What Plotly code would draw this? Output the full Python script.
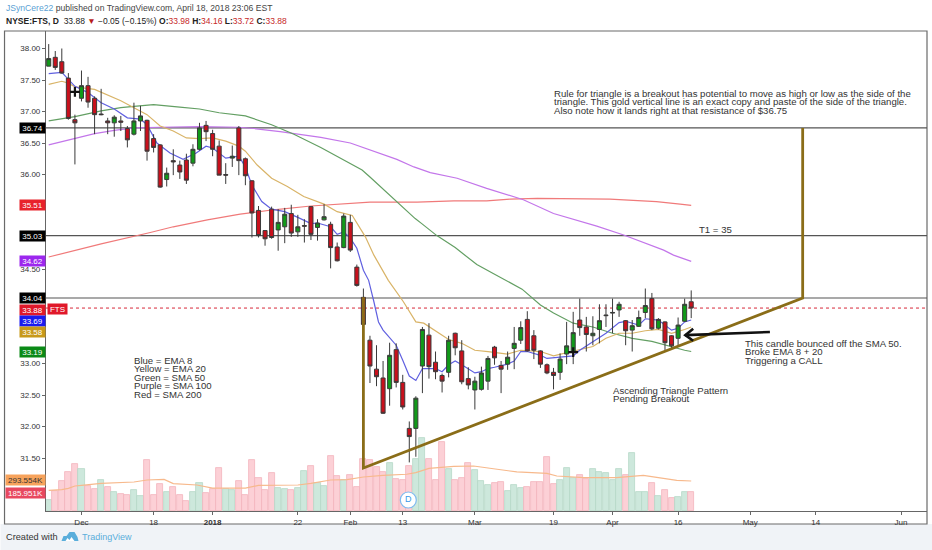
import plotly.graph_objects as go

OPEN = [37.72,37.86,37.79,37.53,36.87,37.21,37.41,37.21,36.96,36.85,36.82,36.85,36.73,36.64,36.85,36.86,36.57,36.47,35.92,36.22,
        36.15,36.23,36.18,36.40,36.78,36.65,36.45,36.00,36.26,36.74,36.25,35.90,35.43,35.11,35.45,35.12,35.17,35.38,35.09,35.19,
        35.49,35.16,35.28,35.21,34.85,34.84,35.24,34.53,34.05,33.37,32.91,32.77,32.60,33.22,32.70,31.97,31.97,32.96,33.45,33.02,
        32.81,32.86,33.48,33.20,32.76,32.58,32.59,32.72,33.26,32.97,32.99,33.24,33.37,33.70,33.44,33.20,32.98,32.86,32.86,33.15,
        33.19,33.69,33.58,33.44,33.54,33.77,33.80,33.85,33.68,33.53,33.59,33.81,34.03,33.56,33.66,33.44,33.40,33.67,33.98]
HIGH = [38.07,37.96,38.00,37.61,36.95,37.65,37.55,37.24,37.36,36.90,36.94,36.93,36.77,37.14,37.09,36.87,36.64,36.48,36.11,36.40,
        36.22,36.33,36.48,36.82,36.85,36.71,36.54,36.18,36.46,36.77,36.27,35.91,35.50,35.11,35.49,35.45,35.47,35.52,35.36,35.29,
        35.50,35.29,35.53,35.25,34.92,35.38,35.36,34.57,34.19,33.44,33.29,33.04,33.33,33.32,32.82,32.08,32.48,33.58,33.64,33.19,
        32.84,33.44,33.49,33.37,32.94,32.79,32.95,33.12,33.28,33.04,33.19,33.58,33.67,33.83,33.53,33.21,33.00,32.93,33.16,33.66,
        33.82,34.03,33.74,33.75,33.94,33.94,34.03,33.98,33.69,33.69,33.84,34.19,34.12,33.72,33.67,33.45,33.73,34.03,34.16]
LOW = [37.72,37.66,37.60,36.87,36.16,37.16,37.06,36.64,36.94,36.64,36.60,36.69,36.43,36.62,36.69,36.22,36.35,35.79,35.81,35.99,
       35.93,35.85,36.13,36.38,36.53,36.29,35.99,35.85,36.12,35.99,35.83,35.00,35.00,34.87,34.98,34.79,34.91,35.01,35.01,34.92,
       34.96,34.95,35.27,34.51,34.62,34.83,34.77,34.22,33.61,32.69,32.64,32.20,32.33,32.62,32.27,31.43,31.52,32.53,32.76,32.75,
       32.54,32.78,33.13,32.67,32.59,32.27,32.57,32.58,32.98,32.53,32.90,32.91,33.31,33.19,33.07,32.93,32.83,32.59,32.74,32.99,
       32.99,33.44,33.19,33.29,33.32,33.58,33.48,33.74,33.29,33.19,33.58,33.72,33.53,33.54,33.21,33.24,33.29,33.66,33.72]
CLOSE = [37.84,37.70,37.61,36.89,36.82,37.41,37.15,36.95,36.95,36.82,36.91,36.83,36.55,36.85,36.93,36.37,36.43,35.80,36.02,36.20,
         36.04,35.91,36.40,36.74,36.68,36.40,35.99,35.99,36.29,36.22,35.98,35.39,35.03,34.98,35.00,35.24,35.37,35.07,35.17,35.18,
         35.05,35.23,35.33,34.84,34.63,35.34,34.80,34.24,33.62,32.96,32.79,32.21,33.13,32.70,32.31,31.84,32.45,33.54,32.95,32.87,
         32.72,33.37,33.25,32.71,32.66,32.72,32.85,33.08,33.09,32.91,33.10,33.32,33.57,33.20,33.21,32.99,32.85,32.81,33.07,33.28,
         33.49,33.57,33.46,33.48,33.68,33.76,33.81,33.94,33.52,33.60,33.73,33.92,33.55,33.70,33.33,33.28,33.61,33.94,33.88]
VOLUME_K = [111,196,294,386,464,415,245,213,304,235,183,163,160,203,147,500,157,262,186,235,
            160,95,186,271,177,219,422,219,203,291,160,500,327,209,373,226,216,203,226,396,
            438,275,245,540,340,304,353,235,507,497,431,386,474,311,301,441,513,715,513,304,
            674,409,301,327,471,405,294,255,275,281,196,252,229,235,285,285,530,262,304,419,
            327,353,317,409,383,373,301,409,353,566,186,183,278,147,203,128,137,186,186]
VOL_UP = [0,5,8,10,13,14,18,22,23,27,28,35,36,38,39,41,42,45,52,56,57,61,65,66,67,70,71,72,
          78,79,80,83,84,85,86,87,89,90,91,93,96,97]

VOLMA_I = [0,2,3,4,5,8,13,15,17.6,19,22.6,25,28,30,32,35,38,40,43,45.5,48,51,54.6,56,58,61.8,64.8,68.4,71.4,76,77.5,81.6,86.6,90.7,95.8,98]
VOLMA_K = [203,209,222,245,252,271,284,304,310,268,255,225,225,225,251,255,255,271,304,307,333,350,360,376,418,438,441,409,383,369,343,327,327,350,301,294]

EMA8_I = [0,2,4,6,8,10,12,14,15,16.5,18.5,20.5,22.5,24,25,27,29,30,31,32.5,34,36,38,40,41,43,44,45,46,47,48,48.8,49.6,50.3,51,53,54,55,56,57,59,60,61,62,63,65,66,67,68,70,71,72,73,75,76,78,80,81,83,85,87,88,90,91,93,94,95,96,97,98]
EMA8_P = [37.60,37.62,37.40,37.30,37.14,37.04,36.90,36.88,36.79,36.50,36.34,36.24,36.34,36.45,36.42,36.26,36.29,36.12,35.83,35.57,35.45,35.41,35.32,35.22,35.23,35.17,35.05,35.09,34.99,34.83,34.48,34.32,33.98,33.66,33.53,33.29,33.05,32.80,32.73,32.92,32.92,32.87,32.98,33.04,32.98,32.85,32.87,32.92,32.94,32.99,33.04,33.19,33.19,33.13,33.08,33.10,33.12,33.21,33.35,33.48,33.65,33.67,33.61,33.71,33.69,33.61,33.53,33.56,33.66,33.69]
EMA20_I = [0,2,3,4,7,9,11,13,15,17,19,21,23,25,27,29,30,31.8,34,36.4,38.9,42,44,46.3,48.3,49.6,50.6,51.8,54.1,56,57.2,59.2,61,63,65,67,70,72,75,77,80,83,85,87,89,91,93,95,97,98]
EMA20_P = [37.43,37.48,37.45,37.39,37.35,37.26,37.17,37.06,36.95,36.77,36.69,36.58,36.57,36.58,36.53,36.45,36.37,36.15,35.94,35.81,35.65,35.53,35.41,35.35,35.01,34.72,34.54,34.32,33.98,33.66,33.64,33.50,33.38,33.32,33.21,33.19,33.15,33.21,33.19,33.12,33.19,33.27,33.40,33.48,33.48,33.52,33.54,33.48,33.54,33.58]
SMA50_I = [0,4,8,11,13,16,20,23,26,28,30,34,37.4,41.5,47.8,49,53.1,55.9,56.9,59.2,62,65.3,67.8,72.2,75,77,80,83,86,89,92,95,97,98]
SMA50_P = [36.85,36.92,37.01,37.06,37.08,37.11,37.07,37.04,36.98,36.95,36.93,36.79,36.64,36.43,36.07,35.96,35.56,35.30,35.22,35.03,34.84,34.57,34.43,34.18,33.93,33.80,33.64,33.58,33.48,33.40,33.35,33.26,33.21,33.19]
SMA100_I = [0,4,7,10,13,17,23,29,31.3,35.3,41.5,46,49,53.1,55.7,58.2,62.3,66.8,72.4,77,83.6,87.7,93.8,95.3,98]
SMA100_P = [36.47,36.57,36.65,36.70,36.74,36.75,36.76,36.75,36.73,36.68,36.59,36.50,36.39,36.24,36.12,36.03,35.94,35.78,35.60,35.38,35.18,35.04,34.80,34.72,34.62]
SMA200_I = [0,8,15.5,19,24.2,29.2,34.3,40,49,56.2,61.8,66.8,70.4,74.5,85.6,92.7,96.3,98]
SMA200_P = [34.69,34.90,35.08,35.17,35.28,35.37,35.44,35.50,35.56,35.56,35.58,35.58,35.61,35.62,35.61,35.57,35.53,35.51]

TICK_I = [5,16,25,38,46,54,65,77,86,96,107,117,130]
TICK_L = ["Dec","18","<b>2018</b>","22","Feb","13","Mar","19","Apr","16","May","14","Jun"]
PRICE_TICKS = [38.0,37.5,37.0,36.5,36.0,34.5,33.0,32.5,32.0,31.5]

H_LEVELS = [36.74,35.03,34.04]
# value, label, colour, pixel nudge used by the tag stack
TAGS = [(36.74,"36.74","#000000",0),(35.51,"35.51","#e8222b",0),(35.03,"35.03","#000000",0),(34.62,"34.62","#9c27ee",0),
        (34.04,"34.04","#000000",0),(33.88,"33.88","#e0182a",-1.5),(33.69,"33.69","#1a1af0",-1),(33.58,"33.58","#c8991a",-5),(33.19,"33.19","#0a8a16",-0.5)]
VOL_TAGS = [(293.554,"293.554K","#f7a35c",1),(185.951,"185.951K","#e8485f",-1)]

TRI_I = [48,48,115,115]
TRI_P = [34.05,31.34,34.04,36.74]
CROSS_I = [4,80]
CROSS_P = [37.31,33.18]
ARROW_I = [110,97.1]
ARROW_P = [33.50,33.45]
ARROW_HEAD_I = [98.3,97.1,98.3]
ARROW_HEAD_P = [33.55,33.45,33.36]

W,H = 932,550
L,T,R,B = 45.5,31,927,511
px = lambda x:(x-L)/(R-L)
py = lambda y:(B-y)/(B-T)
XR = [(L-48.2)/6.56,(R-48.2)/6.56]
YR = [38-(B-48.5)/63,38+(48.5-T)/63]
VR = [0,(B-T)*9.8]
idx = list(range(len(OPEN)))
FONT = "Liberation Sans"
TXT = "#333333"

fig = go.Figure()
fig.add_bar(x=idx,y=VOLUME_K,yaxis="y",width=0.92,
            marker=dict(color=["#cde8dc" if i in VOL_UP else "#fcd0d6" for i in idx],
                        line=dict(color=["#b5d8c7" if i in VOL_UP else "#f2b4bd" for i in idx],width=0.8)))
fig.add_scatter(x=VOLMA_I,y=VOLMA_K,yaxis="y",mode="lines",line=dict(color="#f7b98c",width=1.2))
for xs,ys,c in [(SMA200_I,SMA200_P,"#f07a7a"),(SMA100_I,SMA100_P,"#c376ea"),(SMA50_I,SMA50_P,"#639f63"),
                (EMA20_I,EMA20_P,"#d9b468"),(EMA8_I,EMA8_P,"#6060e0")]:
    fig.add_scatter(x=xs,y=ys,yaxis="y2",mode="lines",line=dict(color=c,width=1.2))
fig.add_candlestick(x=idx,open=OPEN,high=HIGH,low=LOW,close=CLOSE,yaxis="y3",
                    increasing=dict(fillcolor="#119a19",line=dict(color="#3a3a3a",width=1)),
                    decreasing=dict(fillcolor="#c9101c",line=dict(color="#3a3a3a",width=1)),whiskerwidth=0)
fig.add_scatter(x=TRI_I,y=TRI_P,yaxis="y4",mode="lines",line=dict(color="#8a6d18",width=2.8))
fig.add_scatter(x=CROSS_I,y=CROSS_P,yaxis="y4",mode="markers",
                marker=dict(symbol="cross-thin",size=7,line=dict(color="#111111",width=2.2)))
fig.add_scatter(x=ARROW_I,y=ARROW_P,yaxis="y4",mode="lines",line=dict(color="#111111",width=2.6))
fig.add_scatter(x=ARROW_HEAD_I,y=ARROW_HEAD_P,yaxis="y4",mode="lines",line=dict(color="#111111",width=2.6))
fig.add_scatter(x=[54.85],y=[108],yaxis="y",mode="markers+text",text=["D"],textposition="middle center",
                textfont=dict(color="#3b99e8",size=9,family=FONT),
                marker=dict(size=16,color="#ffffff",line=dict(color="#7db9f0",width=1.2)))

shapes = [
    dict(type="rect",xref="paper",yref="paper",x0=px(0),x1=px(W),y0=py(524),y1=py(H),fillcolor="#f0f3f7",line_width=0,layer="below"),
    dict(type="rect",xref="paper",yref="paper",x0=px(4),x1=px(927),y0=py(524),y1=py(31),line=dict(color="#6a6a6a",width=1.2),layer="below"),
]
for v in H_LEVELS:
    shapes.append(dict(type="line",xref="paper",yref="y2",x0=0,x1=1,y0=v,y1=v,line=dict(color="#555555",width=1.2),layer="below"))
shapes.append(dict(type="line",xref="paper",yref="y2",x0=0,x1=1,y0=33.88,y1=33.88,line=dict(color="#d8283a",width=1,dash="dot"),layer="below"))
shapes.append(dict(type="path",xref="paper",yref="paper",fillcolor="#5aaedb",line_width=0,
    path=f"M {px(61)} {py(541)} L {px(63)} {py(536)} L {px(66)} {py(536)} L {px(69)} {py(532)} L {px(74)} {py(532)} L {px(77)} {py(537)} L {px(78)} {py(541)} Z"))
shapes.append(dict(type="path",xref="paper",yref="paper",fillcolor="#ffffff",line_width=0,
    path=f"M {px(65)} {py(541)} L {px(67)} {py(538)} L {px(69)} {py(540)} L {px(71)} {py(537)} L {px(74)} {py(541)} Z"))

ann = []
def text(x,y,s,size=9.6,color=TXT):
    ann.append(dict(xref="paper",yref="paper",x=px(x-2),y=py(y),text=s,showarrow=False,xanchor="left",yanchor="middle",
                    align="left",font=dict(family=FONT,size=size,color=color)))
R_ = "#c62828"
text(5,8,'<span style="color:#5a9fd4">JSynCere22</span> published on TradingView.com, April 18, 2018 23:06 EST',size=8.6,color="#444444")
text(5,21,f'<b>NYSE:FTS, D</b>  33.88 <span style="color:#b71c1c">▼</span> −0.05 (−0.15%) <b>O:</b><span style="color:{R_}">33.98</span> <b>H:</b><span style="color:{R_}">34.16</span> <b>L:</b><span style="color:{R_}">33.72</span> <b>C:</b><span style="color:{R_}">33.88</span>',size=8.5,color="#222222")
for i,s in enumerate(["Rule for triangle is a breakout has potential to move as high or low as the side of the",
                      "triangle. This gold vertical line is an exact copy and paste of the side of the triangle.",
                      "Also note how it lands right at that resistance of $36.75"]):
    text(554,93.3+i*8.5,s)
text(699,229,"T1 = 35")
for i,s in enumerate(["Blue = EMA 8","Yellow = EMA 20","Green = SMA 50","Purple = SMA 100","Red = SMA 200"]):
    text(134,360.5+i*8.4,s)
for i,s in enumerate(["Ascending Triangle Pattern","Pending Breakout"]):
    text(613,390+i*8.7,s)
for i,s in enumerate(["This candle bounced off the SMA 50.","Broke EMA 8 + 20","Triggering a CALL"]):
    text(745,343+i*8.6,s)
text(5,537,"Created with",size=9.2,color="#333333")
text(82,537,"TradingView",size=9,color="#5aaedb")
for v,s,c,n in TAGS:
    ann.append(dict(xref="paper",yref="y2",x=px(45),y=v,yshift=n,text=s,showarrow=False,xanchor="right",yanchor="middle",width=24,height=9,
                    bgcolor=c,borderpad=0.5,font=dict(family=FONT,size=8,color="#ffffff"),align="center"))
for v,s,c,n in VOL_TAGS:
    ann.append(dict(xref="paper",yref="y",x=px(45),y=v,yshift=n,text=s,showarrow=False,xanchor="right",yanchor="middle",width=38,height=9,
                    bgcolor=c,borderpad=0.5,font=dict(family=FONT,size=8,color="#333333" if c=="#f7a35c" else "#ffffff"),align="center"))
ann.append(dict(xref="paper",yref="y2",x=px(47),y=33.88,yshift=-1,text="FTS",showarrow=False,xanchor="left",yanchor="middle",width=18,height=9,
                bgcolor="#e0182a",borderpad=0.5,font=dict(family=FONT,size=8,color="#ffffff")))

hidden = dict(overlaying="y",range=YR,visible=False,fixedrange=True)
fig.update_layout(
    width=W,height=H,autosize=False,showlegend=False,paper_bgcolor="#ffffff",plot_bgcolor="rgba(0,0,0,0)",
    margin=dict(l=L,r=W-R,t=T,b=H-B,pad=0),bargap=0,boxgap=0.12,shapes=shapes,annotations=ann,hovermode=False,
    xaxis=dict(range=XR,tickmode="array",tickvals=TICK_I,ticktext=TICK_L,showgrid=False,zeroline=False,ticks="outside",ticklen=3,
               tickcolor="#666666",showline=True,linecolor="#666666",linewidth=1.2,rangeslider=dict(visible=False),
               tickfont=dict(family=FONT,size=8,color="#333333")),
    yaxis=dict(range=VR,visible=False,fixedrange=True),
    yaxis2=dict(overlaying="y",range=YR,side="left",tickmode="array",tickvals=PRICE_TICKS,ticktext=[f"{v:.2f}" for v in PRICE_TICKS],
                showgrid=False,zeroline=False,ticks="outside",ticklen=3,tickcolor="#666666",showline=True,linecolor="#666666",linewidth=1.2,
                tickfont=dict(family=FONT,size=8,color="#333333")),
    yaxis3=hidden,yaxis4=hidden,
)
fig.write_html("out.html",post_script="document.body.style.margin='0';",config=dict(displayModeBar=False))
